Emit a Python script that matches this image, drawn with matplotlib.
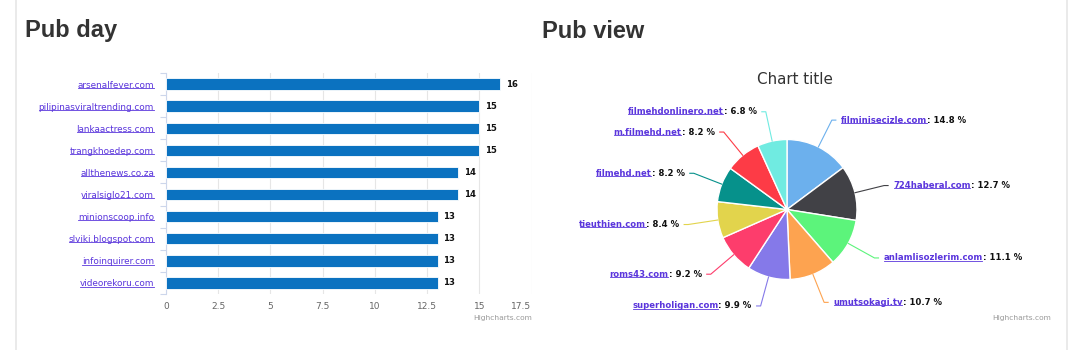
import matplotlib
matplotlib.use("Agg")
import matplotlib.pyplot as plt
import numpy as np
from matplotlib.transforms import IdentityTransform
from matplotlib.lines import Line2D

plt.rcParams['font.family'] = ['DejaVu Sans']

# ---------------- data ----------------
bar_categories = ["arsenalfever.com", "pilipinasviraltrending.com", "lankaactress.com",
                  "trangkhoedep.com", "allthenews.co.za", "viralsiglo21.com",
                  "minionscoop.info", "slviki.blogspot.com", "infoinquirer.com",
                  "videorekoru.com"]
bar_values = [16, 15, 15, 15, 14, 14, 13, 13, 13, 13]
x_ticks = [0, 2.5, 5, 7.5, 10, 12.5, 15, 17.5]
x_tick_labels = ["0", "2.5", "5", "7.5", "10", "12.5", "15", "17.5"]

pie_labels = ["filminisecizle.com", "724haberal.com", "anlamlisozlerim.com",
              "umutsokagi.tv", "superholigan.com", "roms43.com", "tieuthien.com",
              "filmehd.net", "m.filmehd.net", "filmehdonlinero.net"]
pie_values = [14.8, 12.7, 11.1, 10.7, 9.9, 9.2, 8.4, 8.2, 8.2, 6.8]
pie_colors = ["#6cb0ed", "#414146", "#5cf47b", "#fda350", "#8579e9",
              "#fd3d6c", "#e2d44c", "#06918b", "#fd3b46", "#70ebe1"]

LINK = "#5a35dc"
W, H = 1080, 350

fig = plt.figure(figsize=(W / 100, H / 100), dpi=100)
fig.patch.set_facecolor("white")


def fx(px):
    return px / W


def fy(py):
    return 1 - py / H


# panel borders
for xb in (16, 1067):
    fig.add_artist(Line2D([fx(xb)] * 2, [0, 1], color="#e6e6e6", lw=1.2,
                          transform=fig.transFigure))

# section titles
for x, t in ((25, "Pub day"), (542, "Pub view")):
    fig.text(fx(x), fy(37.5), t, fontfamily="Liberation Sans", fontweight="bold",
             fontsize=17, color="#333333", ha="left", va="baseline")

# ---------------- bar chart ----------------
ax = fig.add_axes([fx(166), fy(294), (531.5 - 166) / W, (294 - 73) / H])
ypos = np.arange(len(bar_categories))
ax.barh(ypos, bar_values, height=0.52, color="#0b72c0", edgecolor="white",
        linewidth=0.6, zorder=3)
ax.set_xlim(0, 17.5)
ax.set_ylim(len(bar_categories) - 0.5, -0.5)
ax.set_xticks(x_ticks)
ax.set_xticklabels(x_tick_labels)
ax.set_yticks(ypos)
ax.set_yticklabels(bar_categories)
ax.set_yticks(np.arange(len(bar_categories) + 1) - 0.5, minor=True)
ax.tick_params(axis="y", which="major", length=0, pad=8.6, labelsize=6.4,
               labelcolor=LINK)
ax.tick_params(axis="y", which="minor", length=4.5, width=0.8, color="#ccd6eb")
ax.tick_params(axis="x", length=0, pad=6, labelsize=6.5, labelcolor="#666666")
for s in ("top", "right", "bottom"):
    ax.spines[s].set_visible(False)
ax.spines["left"].set_color("#ccd6eb")
ax.spines["left"].set_linewidth(0.8)
ax.grid(axis="x", color="#e6e6e6", lw=0.8, zorder=0)
ax.set_axisbelow(True)
ax.get_xticklabels()[-1].set_horizontalalignment("right")
for yi, v in zip(ypos, bar_values):
    ax.annotate(str(v), (v, yi), xytext=(4.3, 0), textcoords="offset points",
                va="center", ha="left", fontsize=6.1, fontweight="bold",
                color="#111111")

fig.text(fx(532), fy(318), "Highcharts.com", fontsize=5.4, color="#999999",
         ha="right", va="center")

# ---------------- pie chart ----------------
ax2 = fig.add_axes([0.5, 0, 0.5, 1])
cx, cy, r = 787, 140.5, 70
wedges, _ = ax2.pie(pie_values, colors=pie_colors, startangle=90,
                    counterclock=False, center=(cx, cy), radius=r,
                    wedgeprops=dict(edgecolor="white", linewidth=1))
ax2.set_xlim(540, 1080)
ax2.set_ylim(0, 350)
ax2.axis("off")

fig.text(fx(795), fy(79), "Chart title", fontsize=10.9, color="#333333",
         ha="center", va="center")
fig.text(fx(1051), fy(318), "Highcharts.com", fontsize=5.4, color="#999999",
         ha="right", va="center")

fig.canvas.draw()
renderer = fig.canvas.get_renderer()
ident = IdentityTransform()


def underline(txt, color):
    bb = txt.get_window_extent(renderer)
    fig.add_artist(Line2D([bb.x0 + 0.5, bb.x1 - 0.5], [bb.y0 + 1.8, bb.y0 + 1.8],
                          color=color, lw=0.6, transform=ident))


LAB_FS = 6.1
for w, name, val, col in zip(wedges, pie_labels, pie_values, pie_colors):
    ang = np.deg2rad((w.theta1 + w.theta2) / 2)
    dx, dy = np.cos(ang), np.sin(ang)
    x0, y0 = cx + r * dx, cy + r * dy
    x1, y1 = cx + (r + 30) * dx, cy + (r + 30) * dy
    side = 1 if dx >= 0 else -1
    ax2.plot([x0, x1, x1 + side * 4], [y0, y1, y1], color=col, lw=0.8)
    px, py = ax2.transData.transform((x1 + side * 9, y1))
    rest = f": {val:.1f} %"
    if side > 0:
        t1 = fig.text(px, py, name, transform=ident, ha="left", va="center",
                      fontsize=LAB_FS, fontweight="bold", color=LINK)
        bb = t1.get_window_extent(renderer)
        fig.text(bb.x1, py, rest, transform=ident, ha="left", va="center",
                 fontsize=LAB_FS, fontweight="bold", color="#111111")
    else:
        t2 = fig.text(px, py, rest, transform=ident, ha="right", va="center",
                      fontsize=LAB_FS, fontweight="bold", color="#111111")
        bb = t2.get_window_extent(renderer)
        t1 = fig.text(bb.x0, py, name, transform=ident, ha="right", va="center",
                      fontsize=LAB_FS, fontweight="bold", color=LINK)
    underline(t1, LINK)

for lab in ax.get_yticklabels():
    underline(lab, LINK)

fig.savefig("out.png", dpi=100, facecolor="white")
